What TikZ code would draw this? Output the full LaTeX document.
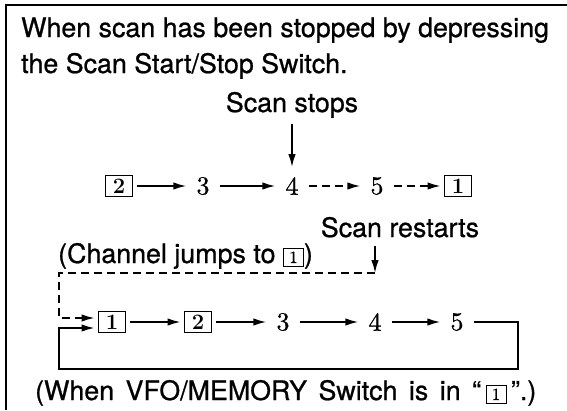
\documentclass[tikz,border=0pt]{standalone}
\usepackage{fontspec}
\setsansfont{TeX Gyre Heros}[FakeBold=0.8]
\newfontfamily\numfont{lmroman10-regular.otf}[FakeBold=0.8]
\usetikzlibrary{arrows.meta}
\newcommand{\chanbox}[1]{{\setlength{\fboxrule}{1pt}\setlength{\fboxsep}{2.5pt}\framebox[21pt]{\numfont\fontsize{17}{17}\selectfont #1}}}
\begin{document}
\begin{tikzpicture}[x=1pt,y=-1pt,
  label/.style={font=\sffamily\fontsize{26.8}{32}\selectfont, inner sep=0pt},
  num/.style={font=\numfont\fontsize{26}{26}\selectfont, inner sep=10pt},
  chan/.style={draw, line width=1.1pt, minimum width=27pt, minimum height=21pt, inner sep=0pt, outer sep=4pt, font=\rmfamily\bfseries\fontsize{22}{22}\selectfont},
  flow/.style={draw, line width=1.6pt, -{Latex[length=13pt,width=7.5pt]}},
  jump/.style={flow, dash pattern=on 8pt off 5pt}]
\useasboundingbox (0,0) rectangle (567,410);
\draw[line width=1.6pt] (567,5) -- (6,5) -- (6,410);

\node[label, anchor=base west] (title1) at (21,37) {When scan has been stopped by depressing};
\node[label, anchor=base west] (title2) at (21,73) {the Scan Start/Stop Switch.};
\node[label, anchor=base] (stops) at (292,112) {Scan stops};

% first pass
\node[chan] (a2) at (119,186) {2};
\node[num] (a3) at (203,186) {3};
\node[num] (a4) at (292,186) {4};
\node[num] (a5) at (377,186) {5};
\node[chan] (a1) at (458,186) {1};

\path[flow, shorten <=6pt] (stops.south) -- (a4.north);
\path[flow] (a2) -- (a3);
\path[flow] (a3) -- (a4);
\path[jump] (a4) -- (a5);
\path[jump] (a5) -- (a1);

\node[label, anchor=base] (restarts) at (400,237) {Scan restarts};
\node[label, anchor=base west] (jumps) at (58,263) {(Channel jumps to \chanbox{1})};

% second pass
\node[chan] (b1) at (112,322) {1};
\node[chan] (b2) at (198,322) {2};
\node[num] (b3) at (283,322) {3};
\node[num] (b4) at (375,322) {4};
\node[num] (b5) at (457,322) {5};

\coordinate (restart) at (375,273);
\coordinate (jumpL) at (59,318);
\coordinate (loopR) at (518,369);
\coordinate (loopL) at (59,328);

\path[flow, shorten <=8pt] (restarts.south -| restart) -- (restart);
\path[jump] (restart) -| (jumpL) -- ([yshift=4pt]b1.west);
\path[flow] (b1) -- (b2);
\path[flow] (b2) -- (b3);
\path[flow] (b3) -- (b4);
\path[flow] (b4) -- (b5);
\path[flow] (b5) -| (loopR) -| (loopL) -- ([yshift=-6pt]b1.west);

\node[label, anchor=base west] (memo) at (35,400) {\spaceskip=11.5pt (When VFO/MEMORY Switch is in ``\,\chanbox{1}\,''.)};
\end{tikzpicture}
\end{document}
